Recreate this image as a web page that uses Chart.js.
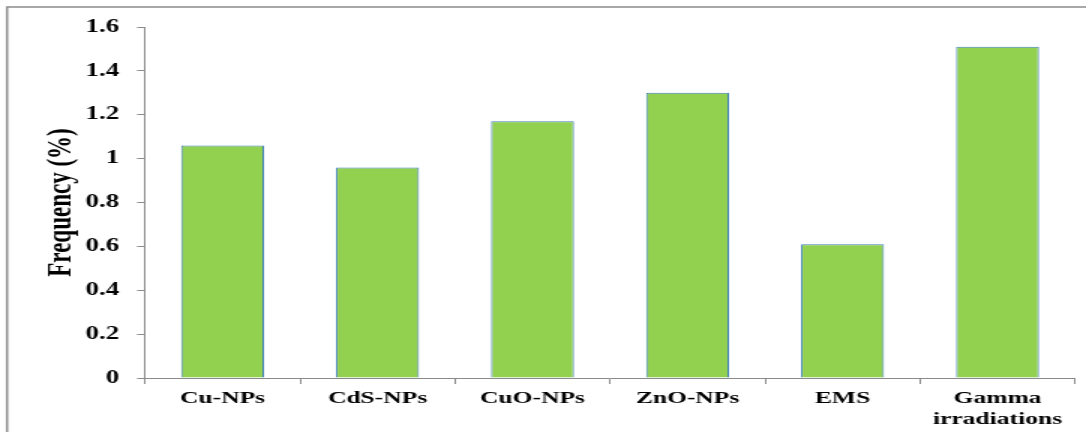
<!DOCTYPE html>
<html>
<head>
<meta charset="utf-8">
<script src="https://cdn.jsdelivr.net/npm/chart.js@4.4.1/dist/chart.umd.min.js"></script>
<style>
    html, body { margin: 0; padding: 0; background: #fff; overflow: hidden; }
    /* the reference picture is stretched sideways, so draw narrow and stretch */
    #wrap { width: 724px; height: 432px; transform: scaleX(1.5); transform-origin: 0 0; }
</style>
</head>
<body>
<div id="wrap"><canvas id="myChart"></canvas></div>
<script>
// --- Data ---
const categories = ['Cu-NPs', 'CdS-NPs', 'CuO-NPs', 'ZnO-NPs', 'EMS', ['Gamma', 'irradiations']];
const frequency = [1.06, 0.96, 1.17, 1.30, 0.61, 1.51];
const yTicks = [0, 0.2, 0.4, 0.6, 0.8, 1, 1.2, 1.4, 1.6];
const yTitle = 'Frequency (%)';

const axisGray = '#8a8a8a';
const serif = '"Liberation Serif", "Times New Roman", serif';

// frame round the chart and the rotated axis title
const decorPlugin = {
    id: 'decor',
    afterDraw(chart) {
        const ctx = chart.ctx;
        ctx.save();
        ctx.strokeStyle = '#8c8c8c';
        ctx.lineWidth = 1.5;
        ctx.beginPath();
        ctx.moveTo(4.7, 440);
        ctx.lineTo(4.7, 7);
        ctx.lineTo(730, 7);
        ctx.stroke();

        const area = chart.chartArea;
        ctx.translate(41.5, (area.top + area.bottom) / 2);
        ctx.rotate(-Math.PI / 2);
        ctx.font = 'bold 23px ' + serif;
        ctx.fillStyle = '#000';
        ctx.textAlign = 'center';
        ctx.textBaseline = 'middle';
        ctx.fillText(yTitle, 0, 0);
        ctx.restore();
    }
};

const ctx = document.getElementById('myChart').getContext('2d');
const myChart = new Chart(ctx, {
    type: 'bar',
    data: {
        labels: categories,
        datasets: [{
            label: 'Frequency',
            data: frequency,
            backgroundColor: '#92d050',
            borderColor: '#3f80b8',
            borderWidth: 1,
            barPercentage: 0.535,
            categoryPercentage: 1
        }]
    },
    options: {
        responsive: true,
        maintainAspectRatio: false,
        animation: false,
        layout: { padding: { left: 0, right: 7.3, top: 27, bottom: 0 } },
        plugins: {
            legend: { display: false },
            tooltip: { enabled: false }
        },
        scales: {
            x: {
                offset: true,
                grid: {
                    offset: true,
                    drawOnChartArea: false,
                    color: axisGray,
                    tickLength: 6
                },
                border: { color: axisGray, width: 1 },
                ticks: {
                    color: '#000',
                    padding: 4,
                    maxRotation: 0,
                    autoSkip: false,
                    font: { family: serif, size: 17, weight: 'bold', lineHeight: 1.25 }
                },
                afterFit(scale) { scale.height = 54; }
            },
            y: {
                min: 0,
                max: 1.6,
                afterBuildTicks(scale) {
                    scale.ticks = yTicks.map(v => ({ value: v }));
                },
                grid: {
                    drawOnChartArea: false,
                    color: axisGray,
                    tickLength: 5.3
                },
                border: { color: axisGray, width: 1 },
                ticks: {
                    color: '#000',
                    padding: 12,
                    font: { family: serif, size: 18, weight: 'bold' },
                    callback: function (value) { return String(Math.round(value * 10) / 10); }
                },
                afterFit(scale) { scale.width = 96.7; }
            }
        }
    },
    plugins: [decorPlugin]
});
</script>
</body>
</html>
